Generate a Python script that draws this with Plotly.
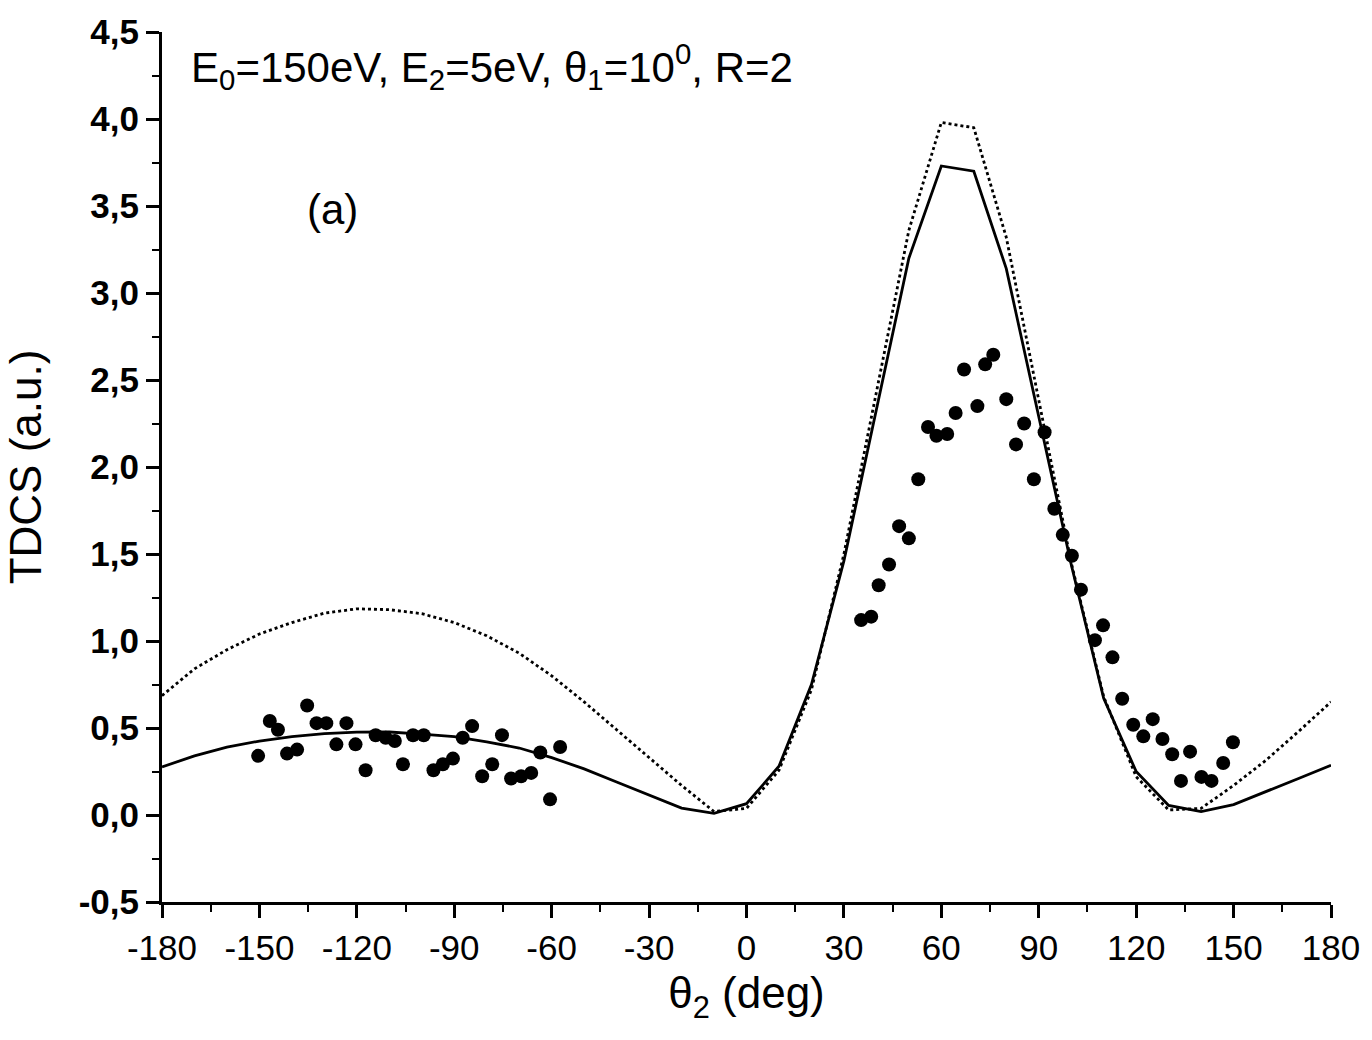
import plotly.graph_objects as go

# Experimental points
exp_theta = [-150.4, -146.8, -144.3, -141.5, -138.4, -135.3, -132.4, -129.4, -126.3, -123.2,
             -120.4, -117.3, -114.2, -111.1, -108.3, -105.8, -102.7, -99.4, -96.4, -93.5,
             -90.4, -87.4, -84.5, -81.4, -78.3, -75.3, -72.5, -69.4, -66.3, -63.5,
             -60.5, -57.4,
             35.3, 38.4, 40.7, 43.9, 47.0, 50.0, 52.9, 55.9, 58.5, 61.8,
             64.4, 67.0, 71.1, 73.5, 76.0, 80.0, 83.0, 85.5, 88.5, 91.8,
             94.8, 97.4, 100.2, 103.0, 107.3, 109.8, 112.7, 115.7, 119.1, 122.2,
             125.1, 128.1, 131.1, 133.8, 136.6, 140.1, 143.2, 146.8, 149.8]
exp_tdcs = [0.34, 0.54, 0.49, 0.353, 0.376, 0.629, 0.528, 0.528, 0.406, 0.528,
            0.406, 0.257, 0.458, 0.444, 0.425, 0.292, 0.458, 0.458, 0.257, 0.292,
            0.324, 0.444, 0.511, 0.223, 0.292, 0.459, 0.21, 0.223, 0.242, 0.359,
            0.09, 0.391,
            1.12, 1.14, 1.32, 1.44, 1.66, 1.59, 1.93, 2.23, 2.18, 2.19,
            2.31, 2.56, 2.35, 2.59, 2.645, 2.39, 2.13, 2.25, 1.93, 2.20,
            1.76, 1.61, 1.49, 1.295, 1.005, 1.09, 0.906, 0.668, 0.519, 0.452,
            0.551, 0.437, 0.349, 0.196, 0.364, 0.219, 0.196, 0.299, 0.418]

# Theory curves (10 degree grid)
theta_grid = [-180, -170, -160, -150, -140, -130, -120, -110, -100, -90,
              -80, -70, -60, -50, -40, -30, -20, -10, 0, 10,
              20, 30, 40, 50, 60, 70, 80, 90, 100, 110,
              120, 130, 140, 150, 160, 170, 180]
solid_tdcs = [0.276, 0.34, 0.39, 0.425, 0.45, 0.468, 0.476, 0.477, 0.465, 0.45,
              0.42, 0.385, 0.33, 0.265, 0.19, 0.115, 0.04, 0.01, 0.065, 0.28,
              0.75, 1.46, 2.33, 3.2, 3.73, 3.70, 3.14, 2.28, 1.44, 0.67,
              0.25, 0.055, 0.019, 0.06, 0.133, 0.21, 0.286]
dotted_tdcs = [0.686, 0.84, 0.95, 1.04, 1.106, 1.16, 1.185, 1.18, 1.157, 1.106,
               1.03, 0.93, 0.80, 0.65, 0.49, 0.33, 0.17, 0.02, 0.038, 0.257,
               0.72, 1.5, 2.42, 3.36, 3.98, 3.95, 3.32, 2.38, 1.45, 0.68,
               0.22, 0.029, 0.038, 0.17, 0.315, 0.48, 0.65]

x_tickvals = [-180, -150, -120, -90, -60, -30, 0, 30, 60, 90, 120, 150, 180]
x_ticktext = ["-180", "-150", "-120", "-90", "-60", "-30", "0", "30", "60", "90", "120", "150", "180"]
y_tickvals = [-0.5, 0.0, 0.5, 1.0, 1.5, 2.0, 2.5, 3.0, 3.5, 4.0, 4.5]
y_ticktext = ["-0,5", "0,0", "0,5", "1,0", "1,5", "2,0", "2,5", "3,0", "3,5", "4,0", "4,5"]

FONT = "Liberation Sans, Arial, sans-serif"

fig = go.Figure()
fig.add_trace(go.Scatter(x=theta_grid, y=dotted_tdcs, mode="lines",
                         line=dict(color="black", width=2.8, dash="dot"), showlegend=False))
fig.add_trace(go.Scatter(x=theta_grid, y=solid_tdcs, mode="lines",
                         line=dict(color="black", width=2.8), showlegend=False))
fig.add_trace(go.Scatter(x=exp_theta, y=exp_tdcs, mode="markers",
                         marker=dict(color="black", size=14, symbol="circle"), showlegend=False))

fig.update_layout(
    width=1372, height=1040,
    margin=dict(l=162, r=39, t=28, b=138),
    paper_bgcolor="white", plot_bgcolor="white",
    font=dict(family=FONT, color="black"),
    annotations=[
        dict(x=0.023, y=0.96, xref="paper", yref="paper", xanchor="left", yanchor="middle",
             text="E<sub>0</sub>=150eV, E<sub>2</sub>=5eV, θ<sub>1</sub>=10<sup>0</sup>, R=2",
             showarrow=False, font=dict(size=42, family=FONT, color="black")),
        dict(x=0.122, y=0.796, xref="paper", yref="paper", xanchor="left", yanchor="middle",
             text="(a)", showarrow=False, font=dict(size=42, family=FONT, color="black")),
    ],
)
fig.update_xaxes(
    range=[-180, 180], showgrid=False, zeroline=False,
    showline=True, linecolor="black", linewidth=3,
    ticks="outside", ticklen=13, tickwidth=2.5, tickcolor="black",
    tickvals=x_tickvals, ticktext=x_ticktext,
    tickfont=dict(size=35, family=FONT, color="black"),
    minor=dict(ticks="outside", ticklen=7, tickwidth=2, tickcolor="black", dtick=15, tick0=-180),
    title=dict(text="θ<sub>2</sub> (deg)", font=dict(size=44, family=FONT, color="black"), standoff=12),
)
fig.update_yaxes(
    range=[-0.5, 4.5], showgrid=False, zeroline=False,
    showline=True, linecolor="black", linewidth=3,
    ticks="outside", ticklen=13, tickwidth=2.5, tickcolor="black",
    tickvals=y_tickvals, ticktext=y_ticktext,
    tickfont=dict(size=35, family=FONT, color="black", weight="bold"),
    minor=dict(ticks="outside", ticklen=7, tickwidth=2, tickcolor="black", dtick=0.25, tick0=-0.5),
    title=dict(text="TDCS (a.u.)", font=dict(size=44, family=FONT, color="black"), standoff=24),
)

fig.write_html("out.html")
